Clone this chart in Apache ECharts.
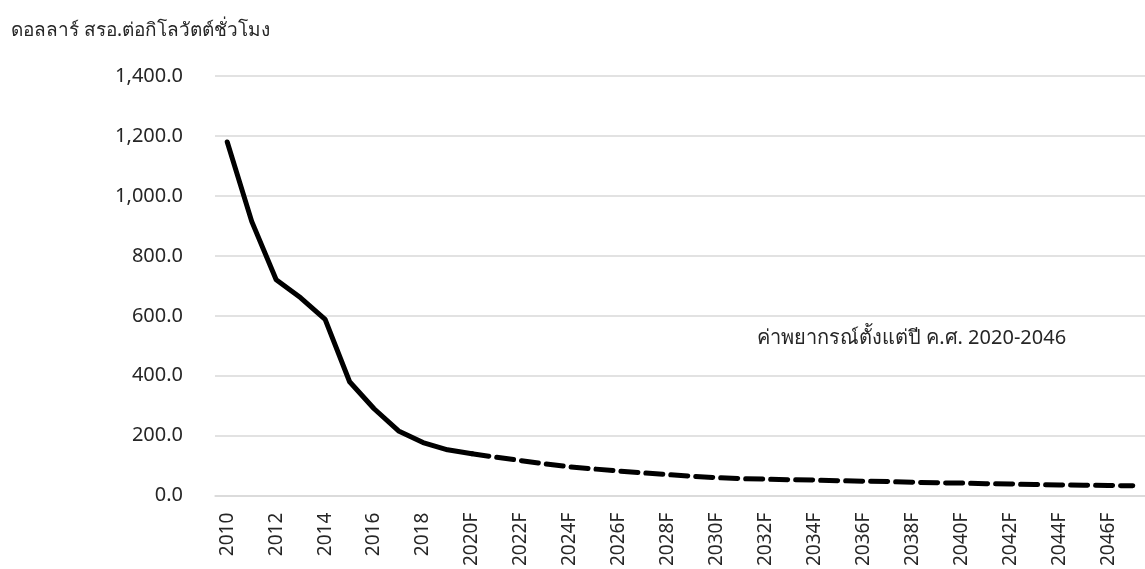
<!DOCTYPE html>
<html>
<head>
<meta charset="utf-8">
<script src="https://cdn.jsdelivr.net/npm/echarts@6/dist/echarts.min.js"></script>
<style>
  html, body { margin: 0; padding: 0; background: #fff; }
  #chart { width: 1145px; height: 569px; }
</style>
</head>
<body>
<div id="chart"></div>
<script>
'use strict';

var FONT = '"Noto Sans", "DejaVu Sans", sans-serif';

// years 2010-2019 actual, 2020F-2047F forecast
var years = ['2010', '2011', '2012', '2013', '2014', '2015', '2016', '2017', '2018', '2019',
    '2020F', '2021F', '2022F', '2023F', '2024F', '2025F', '2026F', '2027F', '2028F', '2029F',
    '2030F', '2031F', '2032F', '2033F', '2034F', '2035F', '2036F', '2037F', '2038F', '2039F',
    '2040F', '2041F', '2042F', '2043F', '2044F', '2045F', '2046F', '2047F'];

var actual = [1180, 915, 720, 660, 588, 380, 290, 216, 177, 153, 140];

var forecast = [140, 128, 117, 106, 96, 89, 82, 76, 70, 65,
    60, 57, 55, 53, 52, 50, 48, 47, 45, 43,
    42, 40, 39, 37, 36, 35, 34, 33];

var yTicks = [0, 1400, 200];

var unitLabel = 'ดอลลาร์ สรอ.ต่อกิโลวัตต์ชั่วโมง';
var noteLabel = 'ค่าพยากรณ์ตั้งแต่ปี ค.ศ. 2020-2046';

// pad the two pieces out to full length so they share the category axis
var solidData = years.map(function(y, i) {
    return i < actual.length ? actual[i] : null;
});
var dashData = years.map(function(y, i) {
    var k = i - (years.length - forecast.length);
    return k >= 0 ? forecast[k] : null;
});

var myChart = echarts.init(document.getElementById('chart'));
var option = {
    animation: false,
    textStyle: { fontFamily: FONT },
    title: {
        text: unitLabel,
        left: 6,
        top: 16,
        textStyle: { fontSize: 19, fontWeight: 'normal', color: '#262626', fontFamily: FONT }
    },
    graphic: [{
        type: 'text',
        left: 757,
        top: 328,
        style: { text: noteLabel, fontSize: 20, fill: '#262626', fontFamily: FONT }
    }],
    grid: { left: 215, right: 0, top: 76, bottom: 70 },
    xAxis: {
        type: 'category',
        data: years,
        boundaryGap: true,
        axisLine: { lineStyle: { color: '#d9d9d9', width: 1.5 } },
        axisTick: { show: false },
        axisLabel: {
            interval: 1,
            rotate: 90,
            margin: 17,
            fontSize: 19,
            color: '#262626',
            fontFamily: FONT
        }
    },
    yAxis: {
        type: 'value',
        min: yTicks[0],
        max: yTicks[1],
        interval: yTicks[2],
        axisLine: { show: false },
        axisTick: { show: false },
        splitLine: { lineStyle: { color: '#d9d9d9', width: 1.5 } },
        axisLabel: {
            margin: 32,
            fontSize: 20,
            color: '#262626',
            fontFamily: FONT,
            formatter: function(v) {
                return v.toLocaleString('en-US', { minimumFractionDigits: 1, maximumFractionDigits: 1 });
            }
        }
    },
    series: [{
        type: 'line',
        data: solidData,
        symbol: 'none',
        lineStyle: { color: '#000', width: 5, cap: 'round', join: 'round' }
    }, {
        type: 'line',
        data: dashData,
        symbol: 'none',
        lineStyle: { color: '#000', width: 5, type: [17, 8], cap: 'round', join: 'round' }
    }]
};
myChart.setOption(option);
</script>
</body>
</html>
